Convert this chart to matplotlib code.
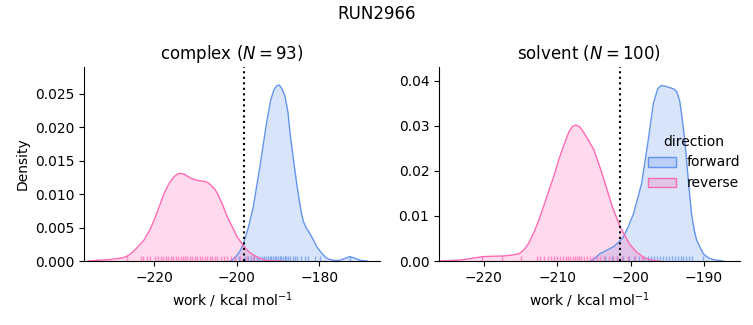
import matplotlib
matplotlib.use('Agg')
import matplotlib.pyplot as plt
import matplotlib.transforms as mtransforms
from matplotlib.patches import Patch
from matplotlib.colors import to_rgba

# colours per direction
fwd_color = '#6495ED'
rev_color = '#FF69B4'

# complex leg: density curves (work, density)
cx_fwd_x = [-201.6, -200.8, -200.0, -199.2, -198.4, -197.2, -196.0, -194.4, -192.8, -191.8, -191.0,
            -190.3, -189.7, -189.1, -188.3, -187.6, -187.1, -186.3, -185.5, -184.8, -184.3, -183.8,
            -183.2, -182.3, -181.4, -180.6, -179.2, -178.2, -177.3, -176.5, -175.0, -173.8, -172.6,
            -171.3, -170.1, -168.5]
cx_fwd_d = [0.0, 0.0003, 0.0008, 0.0015, 0.0026, 0.0050, 0.0081, 0.0141, 0.0206, 0.0240, 0.0256,
            0.0262, 0.0263, 0.0258, 0.0246, 0.0222, 0.0191, 0.0153, 0.0116, 0.0088, 0.0070, 0.0058,
            0.0050, 0.0041, 0.0031, 0.0021, 0.0010, 0.0004, 0.0002, 0.0001, 0.0001, 0.0004, 0.00065,
            0.0004, 0.0001, 0.0]
cx_rev_x = [-236.0, -233.8, -231.0, -229.0, -227.5, -226.5, -225.4, -224.3, -222.5, -221.2, -220.0,
            -218.8, -217.6, -216.4, -215.2, -214.3, -213.6, -212.8, -212.0, -211.2, -210.4, -209.0,
            -207.8, -207.0, -206.0, -205.3, -204.7, -203.5, -202.3, -201.0, -199.9, -198.5, -197.5,
            -196.0, -194.5, -193.0, -191.0, -189.0]
cx_rev_d = [0.0, 0.0001, 0.0002, 0.00035, 0.0005, 0.00075, 0.0012, 0.0019, 0.0031, 0.0045, 0.0061,
            0.0081, 0.0101, 0.0116, 0.0126, 0.0130, 0.0131, 0.0130, 0.0127, 0.0124, 0.0122, 0.0120,
            0.0119, 0.0117, 0.0112, 0.0107, 0.0101, 0.0085, 0.0066, 0.0050, 0.0036, 0.0024, 0.0016,
            0.0009, 0.0004, 0.0001, 0.0, 0.0]

# solvent leg
sv_fwd_x = [-205.5, -204.8, -204.2, -203.0, -202.4, -201.6, -201.0, -200.3, -199.6, -198.5, -197.6,
            -196.9, -196.3, -195.8, -195.2, -194.6, -194.1, -193.7, -193.3, -193.0, -192.6, -192.3,
            -192.0, -191.7, -191.35, -191.0, -190.1, -189.4, -188.7, -187.4]
sv_fwd_d = [0.0, 0.0007, 0.0016, 0.0026, 0.0031, 0.0042, 0.0053, 0.0077, 0.0105, 0.0172, 0.0268,
            0.0350, 0.0383, 0.0390, 0.0388, 0.0385, 0.0382, 0.0376, 0.0355, 0.0320, 0.0265, 0.0209,
            0.0155, 0.0105, 0.0070, 0.0046, 0.0016, 0.0007, 0.0003, 0.0]
sv_rev_x = [-226.1, -224.5, -223.4, -222.0, -220.2, -219.0, -217.5, -216.2, -215.2, -214.5, -213.9,
            -213.2, -212.5, -211.8, -211.1, -210.4, -209.8, -209.1, -208.4, -207.9, -207.5, -207.0,
            -206.6, -205.8, -205.0, -203.9, -203.2, -202.5, -201.4, -200.2, -199.2, -198.2, -197.2,
            -196.0]
sv_rev_d = [0.0, 0.0001, 0.0002, 0.0005, 0.00096, 0.00105, 0.0011, 0.0013, 0.0016, 0.0025, 0.0039,
            0.0062, 0.0091, 0.0124, 0.0158, 0.0191, 0.0224, 0.0257, 0.0287, 0.0299, 0.0302, 0.0299,
            0.0291, 0.0270, 0.0247, 0.0195, 0.0158, 0.0121, 0.0075, 0.0039, 0.0020, 0.0008, 0.0002,
            0.0]

# rug samples (estimated from tick marks)
cx_fwd_rug = [-199.5, -198.0, -197.2, -196.5, -195.8, -195.2, -194.6, -194.0, -193.5, -193.0, -192.5,
              -192.0, -191.6, -191.2, -190.8, -190.4, -190.0, -189.6, -189.2, -188.8, -188.4, -188.0,
              -187.5, -187.0, -186.5, -186.0, -185.3, -184.5, -183.5, -182.7, -181.0, -179.8, -172.6]
cx_rev_rug = [-226.5, -223.3, -222.7, -221.7, -221.0, -219.7, -219.1, -218.4, -217.8, -217.2, -216.7,
              -216.0, -215.4, -214.8, -214.3, -213.6, -213.1, -212.6, -212.0, -211.3, -210.8, -210.1,
              -209.6, -208.9, -208.4, -207.8, -207.2, -206.5, -205.9, -205.3, -204.7, -203.9, -203.1,
              -202.3, -201.5, -200.4, -199.2, -197.6, -196.0]
sv_fwd_rug = [-203.5, -202.6, -201.8, -201.0, -200.2, -199.5, -198.8, -198.2, -197.6, -197.2, -196.8,
              -196.4, -196.0, -195.6, -195.2, -194.8, -194.4, -194.0, -193.6, -193.2, -192.8, -192.4,
              -192.0, -191.7, -190.1]
sv_rev_rug = [-220.2, -217.5, -214.9, -212.7, -212.3, -211.8, -211.3, -210.8, -210.4, -210.0, -209.6,
              -209.2, -208.8, -208.5, -208.2, -207.9, -207.6, -207.3, -207.0, -206.7, -206.3, -205.9,
              -205.5, -205.1, -204.6, -204.1, -203.6, -203.0, -202.4, -201.8, -201.2, -200.3, -199.4,
              -198.5]

# free energy estimate lines
cx_line = -198.2
sv_line = -201.4

panels = [
    ('complex ($N = 93$)', cx_fwd_x, cx_fwd_d, cx_rev_x, cx_rev_d, cx_fwd_rug, cx_rev_rug, cx_line,
     (-237.0, -165.3), (0, 0.0290), [-220, -200, -180], [0, 0.005, 0.010, 0.015, 0.020, 0.025], '{:.3f}'),
    ('solvent ($N = 100$)', sv_fwd_x, sv_fwd_d, sv_rev_x, sv_rev_d, sv_fwd_rug, sv_rev_rug, sv_line,
     (-226.1, -185.1), (0, 0.0431), [-220, -210, -200, -190], [0, 0.01, 0.02, 0.03, 0.04], '{:.2f}'),
]

fig = plt.figure(figsize=(7.53, 3.25), dpi=100)
ax_pos = [[0.1116, 0.1969, 0.3931, 0.5969], [0.583, 0.1969, 0.3997, 0.5969]]

for i, (title, fx, fd, rx, rd, frug, rrug, vline, xlim, ylim, xt, yt, fmt) in enumerate(panels):
    ax = fig.add_axes(ax_pos[i])
    for xs, ds, rug, c in [(fx, fd, frug, fwd_color), (rx, rd, rrug, rev_color)]:
        ax.fill_between(xs, ds, color=c, alpha=0.25, lw=0)
        ax.plot(xs, ds, color=c, lw=1)
        trans = mtransforms.blended_transform_factory(ax.transData, ax.transAxes)
        ax.vlines(rug, 0, 0.025, transform=trans, color=c, alpha=0.7, lw=1)
    ax.axvline(vline, color='k', ls=':', lw=1.5)
    ax.set_xlim(*xlim)
    ax.set_ylim(*ylim)
    ax.set_xticks(xt)
    ax.set_yticks(yt)
    ax.set_yticklabels([fmt.format(v) for v in yt])
    ax.set_xticklabels(['\u2212' + str(abs(v)) for v in xt])
    ax.set_title(title, fontsize=12)
    ax.set_xlabel('work / kcal mol$^{-1}$')
    if i == 0:
        ax.set_ylabel('Density')
    ax.spines['top'].set_visible(False)
    ax.spines['right'].set_visible(False)

fig.suptitle('RUN2966', y=0.985, fontsize=12)

handles = [Patch(facecolor=to_rgba(fwd_color, 0.25), edgecolor=fwd_color, label='forward'),
           Patch(facecolor=to_rgba(rev_color, 0.25), edgecolor=rev_color, label='reverse')]
fig.legend(handles=handles, title='direction', loc='center right', bbox_to_anchor=(1.0, 0.5),
           frameon=False)

fig.savefig('out.png', dpi=100)
